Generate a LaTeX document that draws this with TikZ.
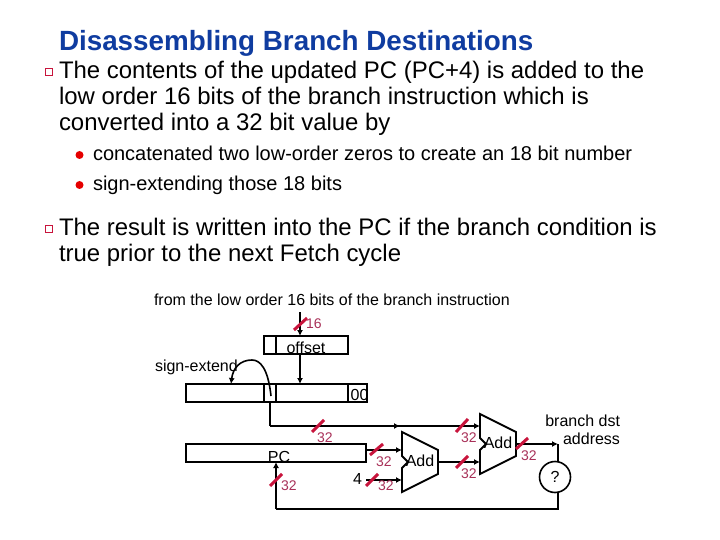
\documentclass[tikz,border=0pt]{standalone}
\usepackage{fontspec}
\setmainfont{Liberation Sans}
\usetikzlibrary{arrows.meta}
\definecolor{titleblue}{HTML}{0F3CA0}
\definecolor{slashred}{HTML}{C8143C}
\definecolor{numred}{HTML}{A83058}
\tikzset{
  x=1pt,y=-1pt,
  txt/.style={anchor=base west,inner sep=0pt,outer sep=0pt},
  body/.style={txt,font=\fontsize{23.95}{26}\selectfont},
  sub/.style={txt,font=\fontsize{20}{22}\selectfont},
  small/.style={txt,font=\fontsize{16}{18}\selectfont},
  bits/.style={txt,font=\fontsize{14}{16}\selectfont,text=numred},
  boxline/.style={draw=black,line width=1.9pt},
  wire/.style={draw=black,line width=1.6pt},
  arrow/.style={wire,-{Latex[length=6pt,width=6pt]}},
  slash/.style={draw=slashred,line width=3pt},
  pt/.style={inner sep=0pt,outer sep=0pt,minimum size=0pt},
}
\begin{document}
\begin{tikzpicture}
\useasboundingbox (0,0) rectangle (720,540);
% title and text
\node[txt,font=\fontsize{27.8}{30}\selectfont\bfseries,text=titleblue] (title) at (59,51) {Disassembling Branch Destinations};
\node[draw=slashred,line width=1.2pt,minimum size=7pt,inner sep=0pt] (q1) at (49,72) {};
\node[body] (l1) at (59,79) {The contents of the updated PC (PC+4) is added to the};
\node[body] (l2) at (59,105) {low order 16 bits of the branch instruction which is};
\node[body] (l3) at (59,131) {converted into a 32 bit value by};
\node[circle,fill=red!90!black,minimum size=8pt,inner sep=0pt] (d1) at (79.5,155) {};
\node[sub] (s1) at (93,161) {concatenated two low-order zeros to create an 18 bit number};
\node[circle,fill=red!90!black,minimum size=8pt,inner sep=0pt] (d2) at (79.5,185) {};
\node[sub] (s2) at (93,191) {sign-extending those 18 bits};
\node[draw=slashred,line width=1.2pt,minimum size=7pt,inner sep=0pt] (q2) at (49,229) {};
\node[body] (l4) at (59,236) {The result is written into the PC if the branch condition is};
\node[body] (l5) at (59,261) {true prior to the next Fetch cycle};
% diagram labels
\node[small] (from) at (154,305) {from the low order 16 bits of the branch instruction};
\node[small] (signext) at (155,371) {sign-extend};
\node[small,anchor=base] (offsetlbl) at (306,353) {offset};
\node[small,anchor=base] (pclbl) at (279,462) {PC};
\node[small,anchor=base] (zeros) at (359.5,400) {00};
\node[small,anchor=base] (addb) at (420,466) {Add};
\node[small,anchor=base] (adda) at (498,448) {Add};
\node[small,anchor=base east] (dst1) at (620,426) {branch dst};
\node[small,anchor=base east] (dst2) at (620,444) {address};
\node[small] (four) at (353,484) {4};
% registers
\node[boxline,pt,minimum width=84pt,minimum height=18pt] (offset) at (306,345) {};
\coordinate (od) at (276,336);
\draw[boxline] (od) -- (276,354);
\node[boxline,pt,minimum width=181pt,minimum height=18pt] (ext) at (276.5,393) {};
\draw[boxline] (264,384) -- (264,402);
\draw[boxline] (276,384) -- (276,402);
\draw[boxline] (348,384) -- (348,402);
\node[boxline,pt,minimum width=180pt,minimum height=18pt] (pc) at (276,453) {};
% adders
\draw[boxline,line join=miter] (402,432) -- (438,450) -- (438,474) -- (402,492) -- (402,468) -- (408,462) -- (402,456) -- cycle;
\draw[boxline,line join=miter] (480,414) -- (516,432) -- (516,456) -- (480,474) -- (480,450) -- (486,444) -- (480,438) -- cycle;
\coordinate (addain1) at (480,426);
\coordinate (addain2) at (480,462);
\coordinate (addaout) at (516,444);
\coordinate (addbin1) at (402,450);
\coordinate (addbin2) at (402,480);
\coordinate (addbout) at (438,462);
% mux
\node[circle,draw=black,line width=1.6pt,minimum size=31pt,inner sep=0pt,font=\fontsize{16}{18}\selectfont] (mux) at (555,477) {?};
% wires
\coordinate (fromc) at (300,312);
\coordinate (offt) at (300,336);
\coordinate (offb) at (300,354);
\coordinate (extt) at (300,384);
\draw[arrow] (fromc) -- (offt);
\draw[arrow] (offb) -- (extt);
\draw[arrow] (271,396) .. controls (268,368) and (260,360) .. (252,360) .. controls (240,360) and (233,368) .. (231,384);
\coordinate (extb) at (270,402);
\coordinate (corner) at (270,426);
\draw[wire] (extb) -- (corner);
\draw[arrow] (corner) -- (addain1);
\draw[arrow] (corner) -- (400,426);
\coordinate (pcr) at (366,450);
\draw[arrow] (pcr) -- (addbin1);
\coordinate (fourr) at (366,480);
\draw[arrow] (fourr) -- (addbin2);
\draw[arrow] (addbout) -- (addain2);
\coordinate (jn) at (558,444);
\draw[arrow] (addaout) -- (jn);
\draw[wire] (jn) -- (558,462);
\coordinate (bot) at (558,509);
\coordinate (pcb) at (276,509);
\draw[wire] (558,492) -- (bot) -- (pcb);
\draw[arrow] (pcb) -- (276,462);
% slashes
\draw[slash] (294,330) -- (307,318);
\draw[slash] (312,432) -- (324,420);
\draw[slash] (370,455) -- (383,444);
\draw[slash] (366,486) -- (378,474);
\draw[slash] (270,486) -- (282,474);
\draw[slash] (456,432) -- (468,419);
\draw[slash] (456,468) -- (468,456);
\draw[slash] (516,449) -- (528,438);
% bit widths
\node[bits] (b16) at (306,328) {16};
\node[bits] (b1) at (317,442) {32};
\node[bits] (b2) at (376,466) {32};
\node[bits] (b3) at (378,490) {32};
\node[bits] (b4) at (281,490) {32};
\node[bits] (b5) at (461,442) {32};
\node[bits] (b6) at (461,478) {32};
\node[bits] (b7) at (521,460) {32};
\end{tikzpicture}
\end{document}
